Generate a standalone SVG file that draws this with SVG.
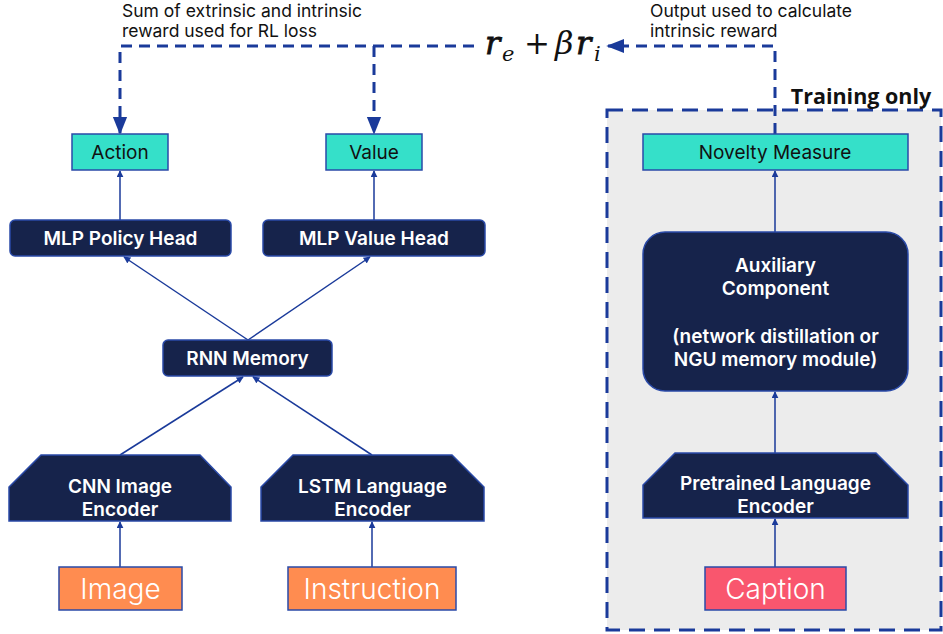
<svg xmlns="http://www.w3.org/2000/svg" width="943" height="634" viewBox="0 0 943 634">
<defs>
<style>
.dk{fill:#16234b;stroke:#2a4aa8;stroke-width:1.5}
.teal{fill:#35e0c9;stroke:#2a4aa8;stroke-width:1.5}
.or{fill:#ff8c50;stroke:#2a4aa8;stroke-width:1.5}
.pk{fill:#f9566e;stroke:#2a4aa8;stroke-width:1.5}
.wt{font-family:Inter,"Noto Sans",sans-serif;font-weight:600;font-size:19px;fill:#ffffff;text-anchor:middle}
.tt{font-family:Inter,"Noto Sans",sans-serif;font-size:19px;fill:#111111;text-anchor:middle}
.big{font-family:Inter,"Noto Sans",sans-serif;font-weight:300;font-size:28px;fill:#ffffff;text-anchor:middle}
.lbl{font-family:Inter,"Noto Sans",sans-serif;font-size:17.5px;fill:#111111}
.con{stroke:#1a3a9a;stroke-width:1.5;fill:none}
.dash{stroke:#1a3a9a;stroke-width:3;fill:none;stroke-dasharray:11 7}
.math{font-family:"DejaVu Serif","Liberation Serif",serif;font-style:italic;fill:#111111}
</style>
<marker id="ah" viewBox="0 0 10 10" refX="9" refY="5" markerWidth="7" markerHeight="7" markerUnits="userSpaceOnUse" orient="auto"><path d="M0,0 L10,5 L0,10 z" fill="#1a3a9a"/></marker>
<marker id="ahb" viewBox="0 0 10 10" refX="9" refY="5" markerWidth="18" markerHeight="18" markerUnits="userSpaceOnUse" orient="auto"><path d="M0,1 L10,5 L0,9 z" fill="#1a3a9a"/></marker>
</defs>
<rect width="943" height="634" fill="#ffffff"/>

<g id="training-region">
<rect x="607" y="110" width="334" height="520" fill="#ececec" stroke="#1a3a9a" stroke-width="3" stroke-dasharray="16 9"/>
<text x="861" y="104" font-family="'Open Sans','Noto Sans',sans-serif" font-weight="700" font-size="21.5" fill="#111111" text-anchor="middle">Training only</text>
</g>

<g id="connectors">
<line class="con" x1="120" y1="567" x2="120" y2="522" marker-end="url(#ah)"/>
<line class="con" x1="372" y1="567" x2="372" y2="522" marker-end="url(#ah)"/>
<line class="con" x1="120" y1="455" x2="243" y2="377" marker-end="url(#ah)"/>
<line class="con" x1="372" y1="455" x2="253" y2="377" marker-end="url(#ah)"/>
<line class="con" x1="248" y1="340" x2="124" y2="257" marker-end="url(#ah)"/>
<line class="con" x1="248" y1="340" x2="370" y2="257" marker-end="url(#ah)"/>
<line class="con" x1="120" y1="220" x2="120" y2="171" marker-end="url(#ah)"/>
<line class="con" x1="374" y1="220" x2="374" y2="171" marker-end="url(#ah)"/>
<line class="con" x1="775" y1="567" x2="775" y2="519" marker-end="url(#ah)"/>
<line class="con" x1="775" y1="453" x2="775" y2="392" marker-end="url(#ah)"/>
<line class="con" x1="775" y1="232" x2="775" y2="171" marker-end="url(#ah)"/>
<path class="dash" d="M474,46 H120 V133" marker-end="url(#ahb)"/>
<path class="dash" d="M374,46 V133" marker-end="url(#ahb)"/>
<path class="dash" d="M775,134 V46 H608" marker-end="url(#ahb)"/>
</g>

<g id="formula">
<rect x="480" y="28" width="126" height="36" fill="#ffffff"/>
<text class="math" x="485" y="54" font-size="32" stroke="#111111" stroke-width="0.8">r</text>
<text class="math" x="502" y="61" font-size="21">e</text>
<text x="537" y="54" font-family="'DejaVu Serif',serif" font-size="31" fill="#111111" text-anchor="middle">+</text>
<text class="math" x="555" y="54" font-size="32">β</text>
<text class="math" x="576" y="54" font-size="32" stroke="#111111" stroke-width="0.8">r</text>
<text class="math" x="594" y="61" font-size="21">i</text>
</g>

<g id="label-sum">
<text class="lbl" x="122" y="17">Sum of extrinsic and intrinsic</text>
<text class="lbl" x="122" y="37">reward used for RL loss</text>
</g>
<g id="label-output">
<text class="lbl" x="650" y="17">Output used to calculate</text>
<text class="lbl" x="650" y="37">intrinsic reward</text>
</g>

<g id="action"><rect class="teal" x="72" y="134" width="96" height="36"/><text class="tt" x="120" y="159">Action</text></g>
<g id="value"><rect class="teal" x="326" y="134" width="96" height="36"/><text class="tt" x="374" y="159">Value</text></g>
<g id="novelty"><rect class="teal" x="643" y="134" width="265" height="36"/><text class="tt" x="775" y="159">Novelty Measure</text></g>

<g id="mlp-policy"><rect class="dk" x="10" y="220" width="221" height="36" rx="5"/><text class="wt" x="120.5" y="245">MLP Policy Head</text></g>
<g id="mlp-value"><rect class="dk" x="263" y="220" width="222" height="36" rx="5"/><text class="wt" x="374" y="245">MLP Value Head</text></g>
<g id="rnn"><rect class="dk" x="163" y="340" width="169" height="36" rx="5"/><text class="wt" x="247.5" y="365">RNN Memory</text></g>

<g id="aux"><rect class="dk" x="643" y="232" width="265" height="159" rx="22"/>
<text class="wt" x="775.5" y="272">Auxiliary</text>
<text class="wt" x="775.5" y="295">Component</text>
<text class="wt" x="775.5" y="343">(network distillation or</text>
<text class="wt" x="775.5" y="366">NGU memory module)</text></g>

<g id="cnn"><polygon class="dk" points="41,455 200,455 231,487 231,521 9,521 9,487"/>
<text class="wt" x="120" y="493">CNN Image</text><text class="wt" x="120" y="516">Encoder</text></g>
<g id="lstm"><polygon class="dk" points="293,455 452,455 484,487 484,521 261,521 261,487"/>
<text class="wt" x="372.5" y="493">LSTM Language</text><text class="wt" x="372.5" y="516">Encoder</text></g>
<g id="pretrained"><polygon class="dk" points="675,453 876,453 908,485 908,518 643,518 643,485"/>
<text class="wt" x="775.5" y="490">Pretrained Language</text><text class="wt" x="775.5" y="513">Encoder</text></g>

<g id="image"><rect class="or" x="59" y="567" width="123" height="43"/><text class="big" x="120.5" y="599">Image</text></g>
<g id="instruction"><rect class="or" x="288" y="567" width="168" height="43"/><text class="big" x="372" y="599">Instruction</text></g>
<g id="caption"><rect class="pk" x="705" y="567" width="141" height="43"/><text class="big" x="775.5" y="599">Caption</text></g>
</svg>
